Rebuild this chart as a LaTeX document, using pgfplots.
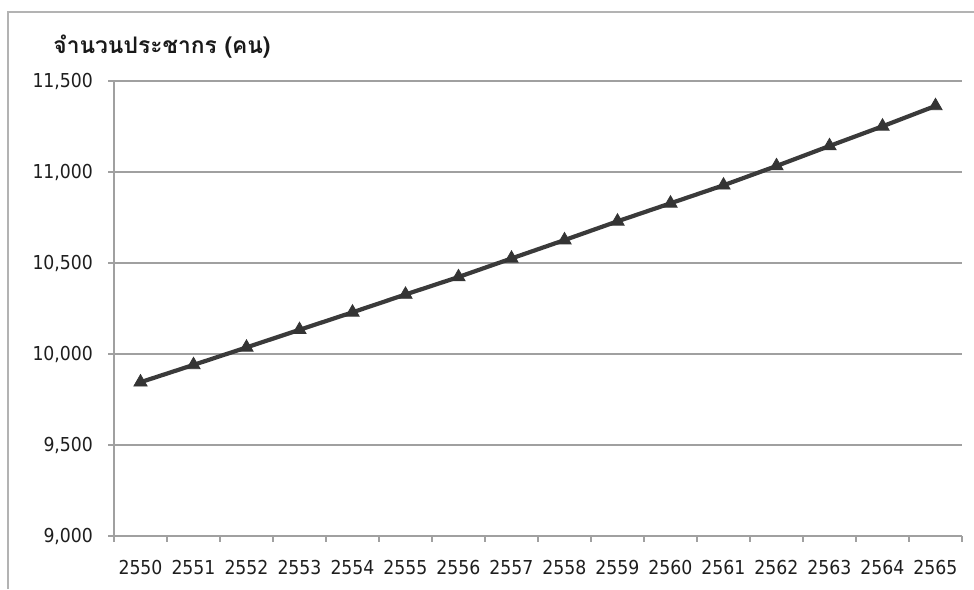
\documentclass[border=0pt]{standalone}
\usepackage{fontspec}
\usepackage{pgfplots}
\pgfplotsset{compat=1.18}
\setmainfont{DejaVu Sans Condensed}
\newfontfamily\thaifont[Script=Thai]{Loma}

\definecolor{linegray}{HTML}{3A3A3A}
\definecolor{gridgray}{HTML}{A0A0A0}
\definecolor{labgray}{HTML}{1E1E1E}

\begin{document}
\begin{tikzpicture}
\path[use as bounding box] (0,0) rectangle (487pt,294.5pt);
% chart area border (left and top only, rest is cropped)
\draw[gridgray!80, line width=0.8pt] (4pt,0) -- (4pt,288.5pt) -- (487pt,288.5pt);
\node[anchor=west, text=black!90, inner sep=0pt] at (26.5pt,271pt) {\thaifont\bfseries\fontsize{11.4}{13}\selectfont จำนวนประชากร (คน)};

\begin{axis}[
  at={(57pt,26.5pt)}, anchor=south west,
  scale only axis, width=424pt, height=227.5pt,
  xmin=2549.5, xmax=2565.5, ymin=9000, ymax=11500,
  xtick={2550,...,2565},
  minor xtick={2549.5,2550.5,...,2565.5},
  ytick={9000,9500,...,11500},
  scaled y ticks=false,
  ymajorgrids, grid style={gridgray, line width=0.6pt},
  axis x line*=bottom, axis y line*=left,
  axis line style={gridgray, line width=0.6pt},
  tick align=outside,
  major tick length=3pt, minor tick length=3pt,
  x tick style={draw=none},
  minor x tick style={draw=gridgray, line width=0.6pt},
  y tick style={gridgray, line width=0.6pt},
  tick label style={font=\fontsize{9.6}{11}\selectfont, text=labgray},
  /pgf/number format/assume math mode=true,
  y tick label style={/pgf/number format/1000 sep={,}, xshift=-4pt},
  x tick label style={/pgf/number format/1000 sep={}, yshift=-5.5pt},
]
\addplot[color=linegray, line width=2.1pt, mark=triangle*, mark size=3.8pt,
  mark options={fill=linegray!90!black, draw=linegray!90!black, line width=0.4pt}]
coordinates {
  (2550,9845)
  (2551,9940)
  (2552,10036)
  (2553,10133)
  (2554,10229)
  (2555,10327)
  (2556,10423)
  (2557,10525)
  (2558,10626)
  (2559,10729)
  (2560,10828)
  (2561,10927)
  (2562,11033)
  (2563,11143)
  (2564,11251)
  (2565,11363)
};
\end{axis}
\end{tikzpicture}
\end{document}
